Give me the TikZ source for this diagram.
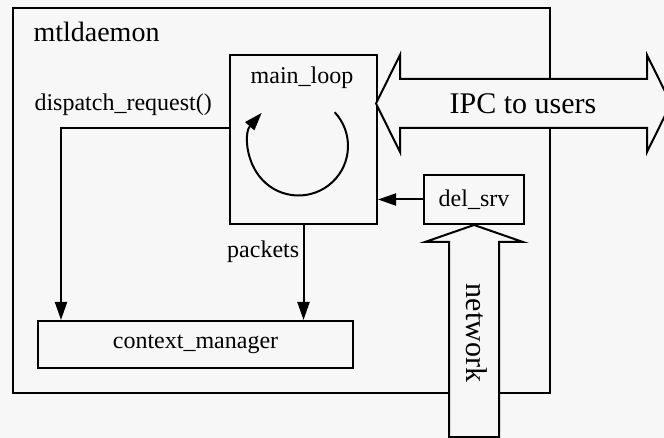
\documentclass[tikz,border=0pt]{standalone}
\usepackage{fontspec}
\setmainfont{Liberation Serif}
\usetikzlibrary{arrows.meta}
\definecolor{paper}{RGB}{247, 247, 247}

\begin{document}
\begin{tikzpicture}[
  x=1pt, y=-1pt,
  box/.style={draw, line width=2pt, inner sep=0pt, anchor=north west},
  txt/.style={font=\fontsize{24}{28}\selectfont},
  bigtxt/.style={font=\fontsize{30}{34}\selectfont},
  arrow/.style={-{Triangle[length=18pt, width=12pt]}, line width=2pt},
  fat/.style={draw, line width=2pt, fill=paper, line join=miter}
]
  % Page
  \fill[paper] (0,0) rectangle (664,438);
  \useasboundingbox (0,0) rectangle (664,438);

  % mtldaemon
  \node[box, minimum width=537pt, minimum height=385pt] (daemon) at (12,7) {};
  \node[font=\fontsize{28}{32}\selectfont, anchor=base west] (daemonlbl) at (30,42) {mtldaemon};

  % main_loop
  \node[box, minimum width=147pt, minimum height=169pt] (mainloop) at (229,54) {};
  \node[txt] (looplbl) at (302,78) {main\_loop};
  \coordinate (loopc) at (298.5,146);
  \draw[arrow] ([shift={(-43:49.5)}]loopc) arc[start angle=-43, end angle=222, radius=49.5];

  % context_manager
  \node[box, txt, minimum width=315pt, minimum height=47pt] (ctx) at (37,320) {context\_manager};

  % del_srv
  \node[box, txt, minimum width=100pt, minimum height=49pt] (delsrv) at (423,174) {del\_srv};

  % Arrows
  \draw[arrow] ([yshift=-74pt]mainloop.north west) -| ([xshift=24pt]ctx.north west);
  \node[txt, anchor=west] (displbl) at (31,105) {dispatch\_request()};
  \draw[arrow] (mainloop.south) -- node[txt, pos=0.28, left] {packets} (mainloop.south |- ctx.north);
  \draw[arrow] (delsrv.west) -- (delsrv.west -| mainloop.east);

  % IPC to users
  \draw[fat] (376,103.5) -- (400,55) -- (400,79) -- (647,79) -- (647,55) -- (671,103.5)
    -- (647,152) -- (647,128) -- (400,128) -- (400,152) -- cycle;
  \node[bigtxt] (ipc) at (523,104) {IPC to users};

  % network
  \draw[fat] (delsrv.south) -- (523,242) -- (499,242) -- (499,437) -- (449,437)
    -- (449,242) -- (425,242) -- cycle;
  \node[bigtxt, rotate=-90] (net) at (477,333) {network};

\end{tikzpicture}
\end{document}
